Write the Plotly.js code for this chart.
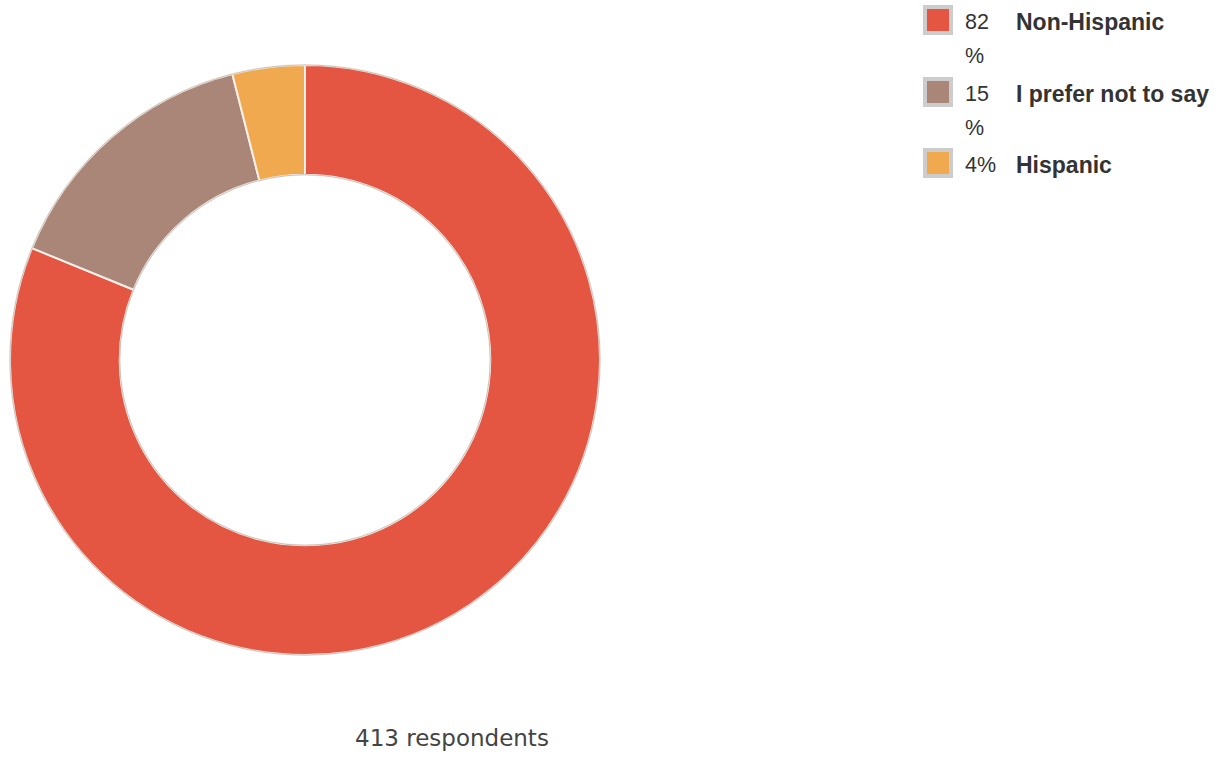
<!DOCTYPE html>
<html>
<head>
<meta charset="utf-8">
<script src="https://cdn.plot.ly/plotly-3.0.1.min.js"></script>
<style>html,body{margin:0;padding:0;background:#fff;}#chart{width:1231px;height:757px;}</style>
</head>
<body>
<div id="chart"></div>
<script>
const categories = ["Non-Hispanic", "I prefer not to say", "Hispanic"];
const values = [82, 15, 4];
const colors = ["#E45641", "#A98677", "#F0A94E"];
const respondents = 413;

const W = 1231, H = 757;
const px = x => x / W;
const py = y => 1 - y / H;
const FONT = "Liberation Sans, Arial, sans-serif";

const trace = {
  type: "pie",
  labels: categories,
  values: values,
  sort: false,
  direction: "clockwise",
  rotation: 0,
  hole: 0.628,
  textinfo: "none",
  hoverinfo: "label+percent",
  marker: { colors: colors, line: { color: "#f6efe9", width: 2 } },
  domain: { x: [px(10), px(600)], y: [py(655), py(65)] },
  showlegend: false
};

const annotations = [];
const shapes = [];
const rowY = [20, 92, 163];
categories.forEach((c, i) => {
  const y = rowY[i];
  shapes.push({ type: "rect", xref: "paper", yref: "paper",
    x0: px(923), x1: px(953), y0: py(y + 15), y1: py(y - 15),
    fillcolor: "#cccccc", line: { width: 0 } });
  shapes.push({ type: "rect", xref: "paper", yref: "paper",
    x0: px(927), x1: px(949), y0: py(y + 11), y1: py(y - 11),
    fillcolor: colors[i], line: { width: 0 } });
  const v = values[i];
  if (v >= 10) {
    annotations.push({ xref: "paper", yref: "paper", x: px(963), y: py(y + 2), xanchor: "left", yanchor: "middle",
      text: String(v), showarrow: false, font: { family: FONT, size: 21.5, color: "#333" } });
    annotations.push({ xref: "paper", yref: "paper", x: px(963), y: py(y + 36), xanchor: "left", yanchor: "middle",
      text: "%", showarrow: false, font: { family: FONT, size: 21.5, color: "#333" } });
  } else {
    annotations.push({ xref: "paper", yref: "paper", x: px(963), y: py(y + 2), xanchor: "left", yanchor: "middle",
      text: v + "%", showarrow: false, font: { family: FONT, size: 21.5, color: "#333" } });
  }
  annotations.push({ xref: "paper", yref: "paper", x: px(1014), y: py(y + 2), xanchor: "left", yanchor: "middle",
    text: "<b>" + c + "</b>", showarrow: false, font: { family: FONT, size: 23, color: "#333" } });
});

annotations.push({ xref: "paper", yref: "paper", x: px(452), y: py(738), xanchor: "center", yanchor: "middle",
  text: respondents + " respondents", showarrow: false, font: { family: "DejaVu Sans, sans-serif", size: 23, color: "#444" } });

shapes.push({ type: "circle", xref: "paper", yref: "paper", layer: "above",
  x0: px(10), x1: px(600), y0: py(655), y1: py(65), line: { color: "rgba(0,0,0,0.18)", width: 1 } });
shapes.push({ type: "circle", xref: "paper", yref: "paper", layer: "above",
  x0: px(305 - 185.3), x1: px(305 + 185.3), y0: py(360 + 185.3), y1: py(360 - 185.3), line: { color: "rgba(0,0,0,0.18)", width: 1 } });

Plotly.newPlot("chart", [trace], {
  width: W, height: H,
  margin: { l: 0, r: 0, t: 0, b: 0 },
  paper_bgcolor: "#fff",
  annotations: annotations,
  shapes: shapes
}, { displayModeBar: false, staticPlot: true });
</script>
</body>
</html>
